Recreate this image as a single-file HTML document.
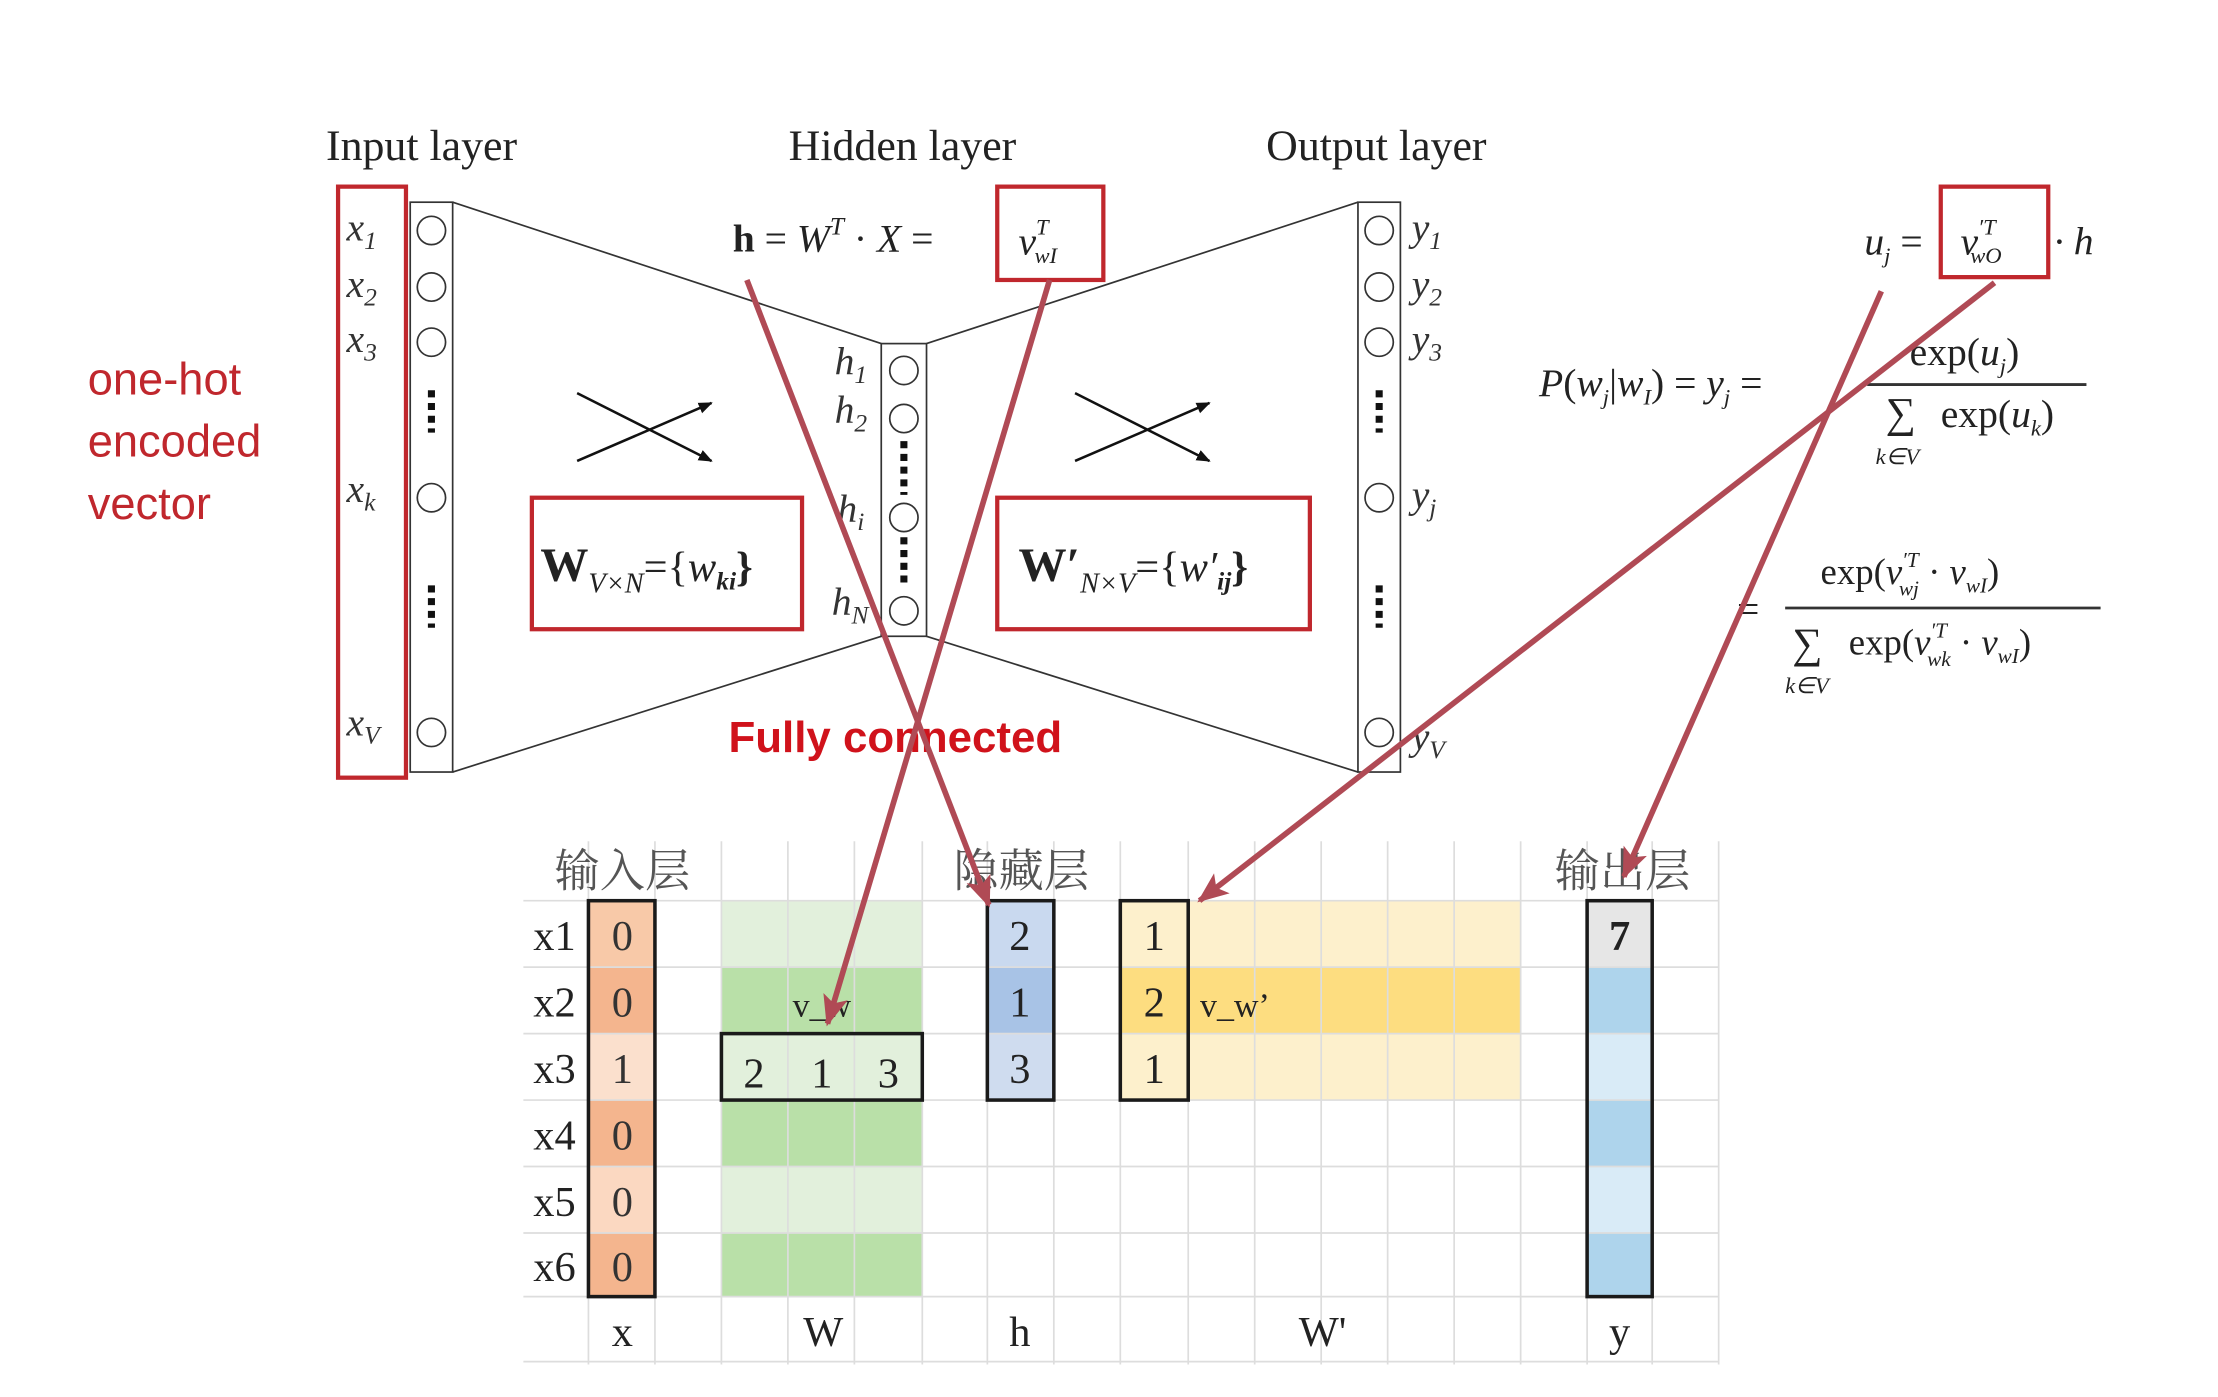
<!DOCTYPE html>
<html><head><meta charset="utf-8"><style>html,body{margin:0;padding:0;background:#fff}svg{display:block}</style></head>
<body>
<svg width="2218" height="1397" viewBox="0 0 1568 988" preserveAspectRatio="none" xmlns="http://www.w3.org/2000/svg">
<defs>
<marker id="ab" markerWidth="10" markerHeight="10" refX="9" refY="5" orient="auto" markerUnits="userSpaceOnUse"><path d="M0,1 L10,5 L0,9 z" fill="#111"/></marker>
<marker id="ar" markerWidth="22" markerHeight="18" refX="20" refY="9" orient="auto" markerUnits="userSpaceOnUse"><path d="M0,0 L22,9 L0,18 L5,9 z" fill="#b04a55"/></marker>
</defs>
<g font-family="Liberation Serif, serif" fill="#222">
<text x="298" y="113" font-size="31" text-anchor="middle">Input layer</text>
<text x="638" y="113" font-size="31" text-anchor="middle">Hidden layer</text>
<text x="973" y="113" font-size="31" text-anchor="middle">Output layer</text>
</g>
<g font-family="Liberation Sans, sans-serif" fill="#c0272d" font-size="32">
<text x="62" y="279">one-hot</text><text x="62" y="323">encoded</text><text x="62" y="367">vector</text>
</g>
<g stroke="#333" stroke-width="1.2" fill="none">
<line x1="320" y1="143" x2="623" y2="243"/><line x1="320" y1="546" x2="623" y2="450"/>
<line x1="655" y1="243" x2="960" y2="143"/><line x1="655" y1="450" x2="960" y2="546"/>
<rect x="290" y="143" width="30" height="403"/><rect x="623" y="243" width="32" height="207"/><rect x="960" y="143" width="30" height="403"/>
<circle cx="305" cy="163" r="10"/><circle cx="305" cy="203" r="10"/><circle cx="305" cy="242" r="10"/><circle cx="305" cy="352" r="10"/><circle cx="305" cy="518" r="10"/>
<circle cx="639" cy="262" r="10"/><circle cx="639" cy="296" r="10"/><circle cx="639" cy="366" r="10"/><circle cx="639" cy="432" r="10"/>
<circle cx="975" cy="163" r="10"/><circle cx="975" cy="203" r="10"/><circle cx="975" cy="242" r="10"/><circle cx="975" cy="352" r="10"/><circle cx="975" cy="518" r="10"/>
</g>
<g stroke="#111" stroke-width="5" stroke-dasharray="5,4">
<line x1="305" y1="276" x2="305" y2="306"/><line x1="305" y1="414" x2="305" y2="444"/>
<line x1="639" y1="312" x2="639" y2="350"/><line x1="639" y1="380" x2="639" y2="416"/>
<line x1="975" y1="276" x2="975" y2="306"/><line x1="975" y1="414" x2="975" y2="444"/>
</g>
<g font-family="Liberation Serif, serif" font-style="italic" font-size="28" fill="#333">
<text x="245" y="170">x<tspan font-size="18" dy="6">1</tspan></text>
<text x="245" y="210">x<tspan font-size="18" dy="6">2</tspan></text>
<text x="245" y="249">x<tspan font-size="18" dy="6">3</tspan></text>
<text x="245" y="355">x<tspan font-size="18" dy="6">k</tspan></text>
<text x="245" y="520">x<tspan font-size="18" dy="6">V</tspan></text>
<text x="590" y="265">h<tspan font-size="18" dy="6">1</tspan></text>
<text x="590" y="299">h<tspan font-size="18" dy="6">2</tspan></text>
<text x="592" y="369">h<tspan font-size="18" dy="6">i</tspan></text>
<text x="588" y="435">h<tspan font-size="18" dy="6">N</tspan></text>
<text x="998" y="170">y<tspan font-size="18" dy="6">1</tspan></text>
<text x="998" y="210">y<tspan font-size="18" dy="6">2</tspan></text>
<text x="998" y="249">y<tspan font-size="18" dy="6">3</tspan></text>
<text x="998" y="359">y<tspan font-size="18" dy="6">j</tspan></text>
<text x="998" y="530">y<tspan font-size="18" dy="6">V</tspan></text>
</g>
<g stroke="#111" stroke-width="1.8">
<line x1="408" y1="278" x2="503" y2="326" marker-end="url(#ab)"/><line x1="408" y1="326" x2="503" y2="285" marker-end="url(#ab)"/>
<line x1="760" y1="278" x2="855" y2="326" marker-end="url(#ab)"/><line x1="760" y1="326" x2="855" y2="285" marker-end="url(#ab)"/>
</g>
<g stroke="#c0272d" stroke-width="3" fill="none">
<rect x="239" y="132" width="48" height="418"/>
<rect x="376" y="352" width="191" height="93"/>
<rect x="705" y="352" width="221" height="93"/>
<rect x="705" y="132" width="75" height="66"/>
<rect x="1372" y="132" width="76" height="64"/>
</g>
<g font-family="Liberation Serif, serif" fill="#222">
<text x="382" y="411" font-size="34" font-weight="bold">W<tspan font-size="20" font-weight="normal" font-style="italic" dy="8">V×N</tspan><tspan dy="-8" font-size="30" font-weight="normal">={</tspan><tspan font-style="italic" font-size="30" font-weight="normal">w</tspan><tspan font-size="18" font-style="italic" dy="6">ki</tspan><tspan dy="-6" font-size="30">}</tspan></text>
<text x="720" y="411" font-size="34" font-weight="bold">W′<tspan font-size="20" font-weight="normal" font-style="italic" dy="8">N×V</tspan><tspan dy="-8" font-size="30" font-weight="normal">={</tspan><tspan font-style="italic" font-size="30" font-weight="normal">w′</tspan><tspan font-size="18" font-style="italic" dy="6">ij</tspan><tspan dy="-6" font-size="30">}</tspan></text>
<text x="518" y="178" font-size="28"><tspan font-weight="bold">h</tspan> = <tspan font-style="italic">W</tspan><tspan font-size="18" dy="-12" font-style="italic">T</tspan><tspan dy="12"> · </tspan><tspan font-style="italic">X</tspan> = </text>
<text x="720" y="180" font-size="28" font-style="italic">v<tspan font-size="16" dy="-14">T</tspan><tspan font-size="16" dx="-10" dy="20">wI</tspan></text>
<text x="1318" y="180" font-size="28" font-style="italic">u<tspan font-size="16" dy="6">j</tspan><tspan dy="-6" font-style="normal"> =</tspan></text>
<text x="1386" y="180" font-size="28" font-style="italic">v<tspan font-size="16" dy="-14">′T</tspan><tspan font-size="16" dx="-18" dy="20">wO</tspan></text>
<text x="1452" y="180" font-size="28" font-style="italic">· h</text>
<text x="1088" y="280" font-size="28"><tspan font-style="italic">P</tspan>(<tspan font-style="italic">w</tspan><tspan font-size="16" font-style="italic" dy="6">j</tspan><tspan dy="-6">|</tspan><tspan font-style="italic">w</tspan><tspan font-size="16" font-style="italic" dy="6">I</tspan><tspan dy="-6">) = </tspan><tspan font-style="italic">y</tspan><tspan font-size="16" font-style="italic" dy="6">j</tspan><tspan dy="-6"> =</tspan></text>
<text x="1350" y="258" font-size="28">exp(<tspan font-style="italic">u</tspan><tspan font-size="16" font-style="italic" dy="6">j</tspan><tspan dy="-6">)</tspan></text>
<line x1="1320" y1="272" x2="1475" y2="272" stroke="#333" stroke-width="2"/>
<text x="1333" y="302" font-size="30">∑</text><text x="1326" y="328" font-size="16" font-style="italic">k∈V</text>
<text x="1372" y="302" font-size="28">exp(<tspan font-style="italic">u</tspan><tspan font-size="16" font-style="italic" dy="6">k</tspan><tspan dy="-6">)</tspan></text>
<text x="1228" y="440" font-size="28">=</text>
<text x="1287" y="413" font-size="26">exp(<tspan font-style="italic">v</tspan><tspan font-size="15" font-style="italic" dy="-12">′T</tspan><tspan font-size="15" font-style="italic" dx="-14" dy="20">wj</tspan><tspan dy="-8"> · </tspan><tspan font-style="italic">v</tspan><tspan font-size="15" font-style="italic" dy="6">wI</tspan><tspan dy="-6">)</tspan></text>
<line x1="1262" y1="430" x2="1485" y2="430" stroke="#333" stroke-width="2"/>
<text x="1267" y="465" font-size="30">∑</text><text x="1262" y="490" font-size="16" font-style="italic">k∈V</text>
<text x="1307" y="463" font-size="26">exp(<tspan font-style="italic">v</tspan><tspan font-size="15" font-style="italic" dy="-12">′T</tspan><tspan font-size="15" font-style="italic" dx="-14" dy="20">wk</tspan><tspan dy="-8"> · </tspan><tspan font-style="italic">v</tspan><tspan font-size="15" font-style="italic" dy="6">wI</tspan><tspan dy="-6">)</tspan></text>
</g>
<text x="515" y="532" font-family="Liberation Sans, sans-serif" font-weight="bold" font-size="31" fill="#d0121b">Fully connected</text>
<g>
<rect x="416" y="637" width="47" height="47" fill="#f8c9a8"/><rect x="416" y="684" width="47" height="47" fill="#f4b58e"/><rect x="416" y="731" width="47" height="47" fill="#fbe0cd"/>
<rect x="416" y="778" width="47" height="47" fill="#f4b58e"/><rect x="416" y="825" width="47" height="47" fill="#fbd8c1"/><rect x="416" y="872" width="47" height="45" fill="#f4b58e"/>
<rect x="510" y="637" width="142" height="47" fill="#e2f0dc"/><rect x="510" y="684" width="142" height="47" fill="#b9e0a8"/><rect x="510" y="731" width="142" height="47" fill="#e2f0dc"/>
<rect x="510" y="778" width="142" height="47" fill="#b9e0a8"/><rect x="510" y="825" width="142" height="47" fill="#e2f0dc"/><rect x="510" y="872" width="142" height="45" fill="#b9e0a8"/>
<rect x="698" y="637" width="47" height="47" fill="#c9d9ef"/><rect x="698" y="684" width="47" height="47" fill="#a8c3e6"/><rect x="698" y="731" width="47" height="47" fill="#cfdcef"/>
<rect x="792" y="637" width="283" height="47" fill="#fdf0cc"/><rect x="792" y="684" width="283" height="47" fill="#fddd80"/><rect x="792" y="731" width="283" height="47" fill="#fdf0cc"/>
<rect x="1122" y="637" width="46" height="47" fill="#e6e6e6"/><rect x="1122" y="684" width="46" height="47" fill="#aed4ec"/><rect x="1122" y="731" width="46" height="47" fill="#d9ebf7"/>
<rect x="1122" y="778" width="46" height="47" fill="#aed4ec"/><rect x="1122" y="825" width="46" height="47" fill="#d9ebf7"/><rect x="1122" y="872" width="46" height="45" fill="#aed4ec"/>
</g>
<g stroke="#ddd" stroke-width="1.2">
<line x1="370" y1="637" x2="1215" y2="637"/><line x1="370" y1="684" x2="1215" y2="684"/><line x1="370" y1="731" x2="1215" y2="731"/><line x1="370" y1="778" x2="1215" y2="778"/><line x1="370" y1="825" x2="1215" y2="825"/><line x1="370" y1="872" x2="1215" y2="872"/><line x1="370" y1="917" x2="1215" y2="917"/><line x1="370" y1="963" x2="1215" y2="963"/>
<line x1="416" y1="595" x2="416" y2="965"/><line x1="463" y1="595" x2="463" y2="965"/><line x1="510" y1="595" x2="510" y2="965"/><line x1="557" y1="595" x2="557" y2="965"/><line x1="604" y1="595" x2="604" y2="965"/><line x1="652" y1="595" x2="652" y2="965"/><line x1="698" y1="595" x2="698" y2="965"/><line x1="745" y1="595" x2="745" y2="965"/><line x1="792" y1="595" x2="792" y2="965"/><line x1="840" y1="595" x2="840" y2="965"/><line x1="887" y1="595" x2="887" y2="965"/><line x1="934" y1="595" x2="934" y2="965"/><line x1="981" y1="595" x2="981" y2="965"/><line x1="1028" y1="595" x2="1028" y2="965"/><line x1="1075" y1="595" x2="1075" y2="965"/><line x1="1122" y1="595" x2="1122" y2="965"/><line x1="1168" y1="595" x2="1168" y2="965"/><line x1="1215" y1="595" x2="1215" y2="965"/>
</g>
<g stroke="#1a1a1a" stroke-width="2.5" fill="none">
<rect x="416" y="637" width="47" height="280"/>
<rect x="510" y="731" width="142" height="47"/>
<rect x="698" y="637" width="47" height="141"/>
<rect x="792" y="637" width="48" height="141"/>
<rect x="1122" y="637" width="46" height="280"/>
</g>
<g font-family="Liberation Serif, serif" font-size="30" fill="#222" text-anchor="middle">
<text x="392" y="672">x1</text><text x="392" y="719">x2</text><text x="392" y="766">x3</text><text x="392" y="813">x4</text><text x="392" y="860">x5</text><text x="392" y="906">x6</text>
<g fill="#333"><text x="440" y="672">0</text><text x="440" y="719">0</text><text x="440" y="766">1</text><text x="440" y="813">0</text><text x="440" y="860">0</text><text x="440" y="906">0</text></g>
<text x="533" y="769">2</text><text x="581" y="769">1</text><text x="628" y="769">3</text>
<text x="581" y="719" font-size="24">v_w</text>
<text x="721" y="672">2</text><text x="721" y="719">1</text><text x="721" y="766">3</text>
<text x="816" y="672">1</text><text x="816" y="719">2</text><text x="816" y="766">1</text>
<text x="873" y="719" font-size="24">v_w’</text>
<text x="1145" y="672" font-weight="bold">7</text>
<text x="440" y="952">x</text><text x="582" y="952">W</text><text x="721" y="952">h</text><text x="935" y="952">W'</text><text x="1145" y="952">y</text>
</g>
<g font-family="Liberation Serif, 'Noto Serif CJK SC', 'Noto Sans CJK SC', serif" font-size="32" fill="#555" text-anchor="middle">
<text x="440" y="627">输入层</text><text x="722" y="627">隐藏层</text><text x="1147" y="627">输出层</text>
</g>
<g stroke="#b04a55" stroke-width="4" fill="none">
<line x1="528" y1="198" x2="699" y2="640" marker-end="url(#ar)"/>
<line x1="742" y1="198" x2="585" y2="724" marker-end="url(#ar)"/>
<line x1="1410" y1="200" x2="848" y2="637" marker-end="url(#ar)"/>
<line x1="1330" y1="206" x2="1148" y2="620" marker-end="url(#ar)"/>
</g>
</svg>
</body></html>
